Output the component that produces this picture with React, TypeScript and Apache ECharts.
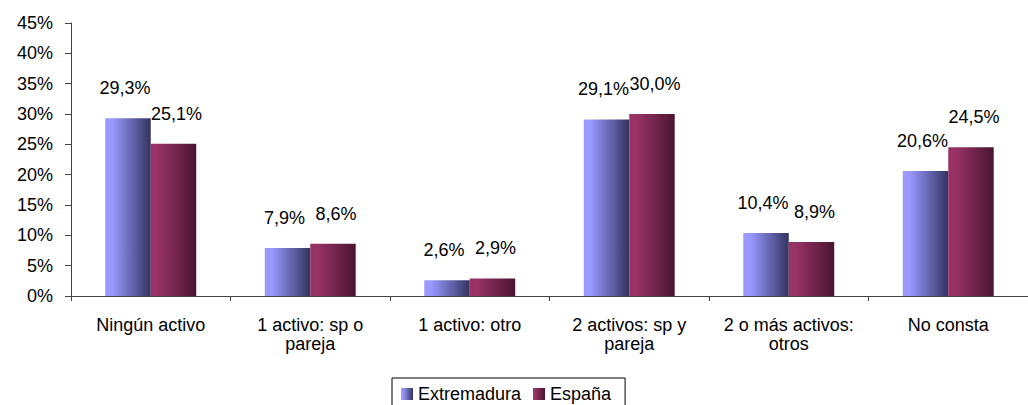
import React, { useEffect, useRef } from "react";
import * as echarts from "echarts";

const categories = [
  "Ningún activo",
  "1 activo: sp o\npareja",
  "1 activo: otro",
  "2 activos: sp y\npareja",
  "2 o más activos:\notros",
  "No consta",
];
const extremadura = [29.3, 7.9, 2.6, 29.1, 10.4, 20.6];
const espana = [25.1, 8.6, 2.9, 30.0, 8.9, 24.5];
const seriesNames = ["Extremadura", "España"];
const yTicks = { min: 0, max: 45, interval: 5 };

const FONT = "'Liberation Sans', Arial, sans-serif";

const grad = (a: string, b: string) =>
  new echarts.graphic.LinearGradient(0, 0, 1, 0, [
    { offset: 0, color: a },
    { offset: 0.15, color: a },
    { offset: 1, color: b },
  ]);

const fmt = (v: number) => `${v.toFixed(1).replace(".", ",")}%`;

export default function App() {
  const ref = useRef<HTMLDivElement>(null);
  useEffect(() => {
    if (!ref.current) return;
    const chart = echarts.init(ref.current, undefined, { renderer: "svg" });
    const labelStyle = {
      show: true,
      position: "top" as const,
      distance: 21,
      color: "#000",
      fontFamily: FONT,
      fontSize: 18,
      formatter: (p: any) => fmt(p.value),
    };
    chart.setOption({
      animation: false,
      backgroundColor: "#fff",
      textStyle: { fontFamily: FONT },
      grid: { left: 71, top: 23, height: 273, width: 967 },
      legend: {
        left: 392,
        top: 378,
        data: seriesNames,
        itemWidth: 12,
        itemHeight: 12,
        itemGap: 12,
        borderColor: "#000",
        borderWidth: 1,
        borderRadius: 0,
        padding: [7, 14, 9, 9],
        textStyle: { fontFamily: FONT, fontSize: 18, color: "#000" },
        icon: "rect",
      },
      xAxis: {
        type: "category",
        data: categories,
        axisLine: { show: true, lineStyle: { color: "#444", width: 1 } },
        axisTick: { show: true, length: 5, lineStyle: { color: "#444" } },
        axisLabel: {
          interval: 0,
          color: "#000",
          fontFamily: FONT,
          fontSize: 18,
          lineHeight: 19,
          margin: 19,
        },
      },
      yAxis: {
        type: "value",
        min: yTicks.min,
        max: yTicks.max,
        interval: yTicks.interval,
        splitLine: { show: false },
        axisLine: { show: true, lineStyle: { color: "#444", width: 1 } },
        axisTick: { show: true, length: 6, lineStyle: { color: "#444" } },
        axisLabel: {
          formatter: "{value}%",
          color: "#000",
          fontFamily: FONT,
          fontSize: 18,
          margin: 18,
        },
      },
      series: [
        {
          name: seriesNames[0],
          type: "bar",
          data: extremadura,
          barGap: "0%",
          barCategoryGap: "43%",
          itemStyle: { color: grad("#9999ff", "#333360") },
          label: { ...labelStyle, offset: [-3, 0] },
        },
        {
          name: seriesNames[1],
          type: "bar",
          data: espana,
          barGap: "0%",
          barCategoryGap: "43%",
          itemStyle: { color: grad("#993366", "#4a1530") },
          label: { ...labelStyle, offset: [3, 0] },
        },
      ],
    });
    return () => chart.dispose();
  }, []);
  return (
    <div
      ref={ref}
      style={{ position: "absolute", left: 0, top: 0, width: 1028, height: 405 }}
    />
  );
}
